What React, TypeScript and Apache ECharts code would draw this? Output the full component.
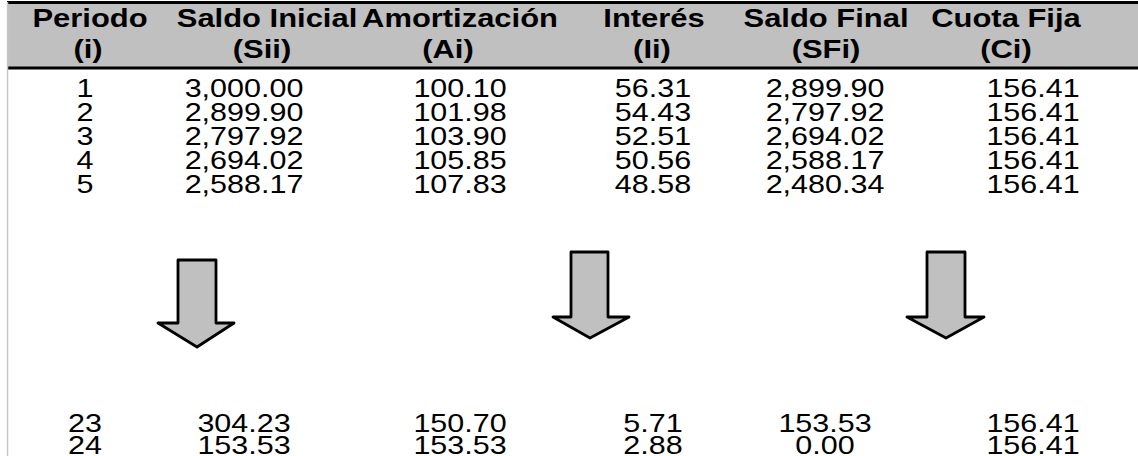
import React, { useEffect, useRef } from "react";
import * as echarts from "echarts";

// ---- data ----
const headerLine1 = ["Periodo", "Saldo Inicial", "Amortización", "Interés", "Saldo Final", "Cuota Fija"];
const headerLine2 = ["(i)", "(Sii)", "(Ai)", "(Ii)", "(SFi)", "(Ci)"];
const periods = [1, 2, 3, 4, 5, 23, 24];
const saldoInicial = [3000.0, 2899.9, 2797.92, 2694.02, 2588.17, 304.23, 153.53];
const amortizacion = [100.1, 101.98, 103.9, 105.85, 107.83, 150.7, 153.53];
const interes = [56.31, 54.43, 52.51, 50.56, 48.58, 5.71, 2.88];
const saldoFinal = [2899.9, 2797.92, 2694.02, 2588.17, 2480.34, 153.53, 0.0];
const cuotaFija = [156.41, 156.41, 156.41, 156.41, 156.41, 156.41, 156.41];

// ---- layout ----
const W = 1138;
const H = 456;
const headerX1 = [90, 267, 460, 654, 826, 1006];
const headerX2 = [88, 262, 448, 652, 826, 1006];
const dataX = [85, 244, 460, 653, 825, 1033];
const rowY = [88, 112, 136, 160, 184, 423, 445];
const arrows = [
  { sl: 178, sr: 216, top: 260, hb: 323, hl: 158, hr: 234, tx: 197, ty: 347 },
  { sl: 571, sr: 608, top: 252, hb: 317, hl: 553, hr: 629, tx: 590, ty: 338 },
  { sl: 927, sr: 965, top: 252, hb: 317, hl: 907, hr: 984, tx: 946, ty: 338 },
];

const fmt = (v: number) =>
  v.toLocaleString("en-US", { minimumFractionDigits: 2, maximumFractionDigits: 2 });

const FONT = "'Liberation Sans', Arial, Helvetica, sans-serif";

function textEl(text: string, x: number, y: number, size: number, bold: boolean, sx: number) {
  return {
    type: "text",
    x,
    y,
    scaleX: sx,
    silent: true,
    style: {
      text,
      fill: "#000",
      fontSize: size,
      fontFamily: FONT,
      fontWeight: bold ? "bold" : "normal",
      align: "center",
      verticalAlign: "middle",
      textAlign: "center",
      textVerticalAlign: "middle",
    },
  };
}

export default function App() {
  const ref = useRef<HTMLDivElement>(null);
  useEffect(() => {
    if (!ref.current) return;
    const chart = echarts.init(ref.current, null, { renderer: "svg" });
    const elements: any[] = [];
    // header band
    elements.push({
      type: "rect",
      silent: true,
      shape: { x: 7, y: 2, width: W - 7, height: 66 },
      style: { fill: "#c0c0c0" },
    });
    headerLine1.forEach((t, i) => elements.push(textEl(t, headerX1[i], 18, 26, true, 1.19)));
    headerLine2.forEach((t, i) => elements.push(textEl(t, headerX2[i], 49, 26, true, 1.19)));
    elements.push({
      type: "line",
      silent: true,
      shape: { x1: 7, y1: 2.5, x2: W, y2: 2.5 },
      style: { stroke: "#000", lineWidth: 3 },
    });
    elements.push({
      type: "line",
      silent: true,
      shape: { x1: 7, y1: 68, x2: W, y2: 68 },
      style: { stroke: "#000", lineWidth: 3 },
    });
    elements.push({
      type: "line",
      silent: true,
      shape: { x1: 7.5, y1: 2, x2: 7.5, y2: H },
      style: { stroke: "#c8c8c8", lineWidth: 1.5 },
    });
    const cols = [
      periods.map((p) => String(p)),
      saldoInicial.map(fmt),
      amortizacion.map(fmt),
      interes.map(fmt),
      saldoFinal.map(fmt),
      cuotaFija.map(fmt),
    ];
    cols.forEach((col, c) =>
      col.forEach((t, r) => elements.push(textEl(t, dataX[c], rowY[r], 25, false, 1.22)))
    );
    arrows.forEach((a) =>
      elements.push({
        type: "polygon",
        silent: true,
        shape: {
          points: [
            [a.sl, a.top],
            [a.sr, a.top],
            [a.sr, a.hb],
            [a.hr, a.hb],
            [a.tx, a.ty],
            [a.hl, a.hb],
            [a.sl, a.hb],
          ],
        },
        style: { fill: "#c0c0c0", stroke: "#000", lineWidth: 2.8, lineJoin: "round" },
      })
    );
    chart.setOption({
      animation: false,
      backgroundColor: "#fff",
      graphic: { elements },
    });
    return () => chart.dispose();
  }, []);
  return (
    <div
      ref={ref}
      style={{ position: "fixed", left: 0, top: 0, width: W, height: H, background: "#fff" }}
    />
  );
}
